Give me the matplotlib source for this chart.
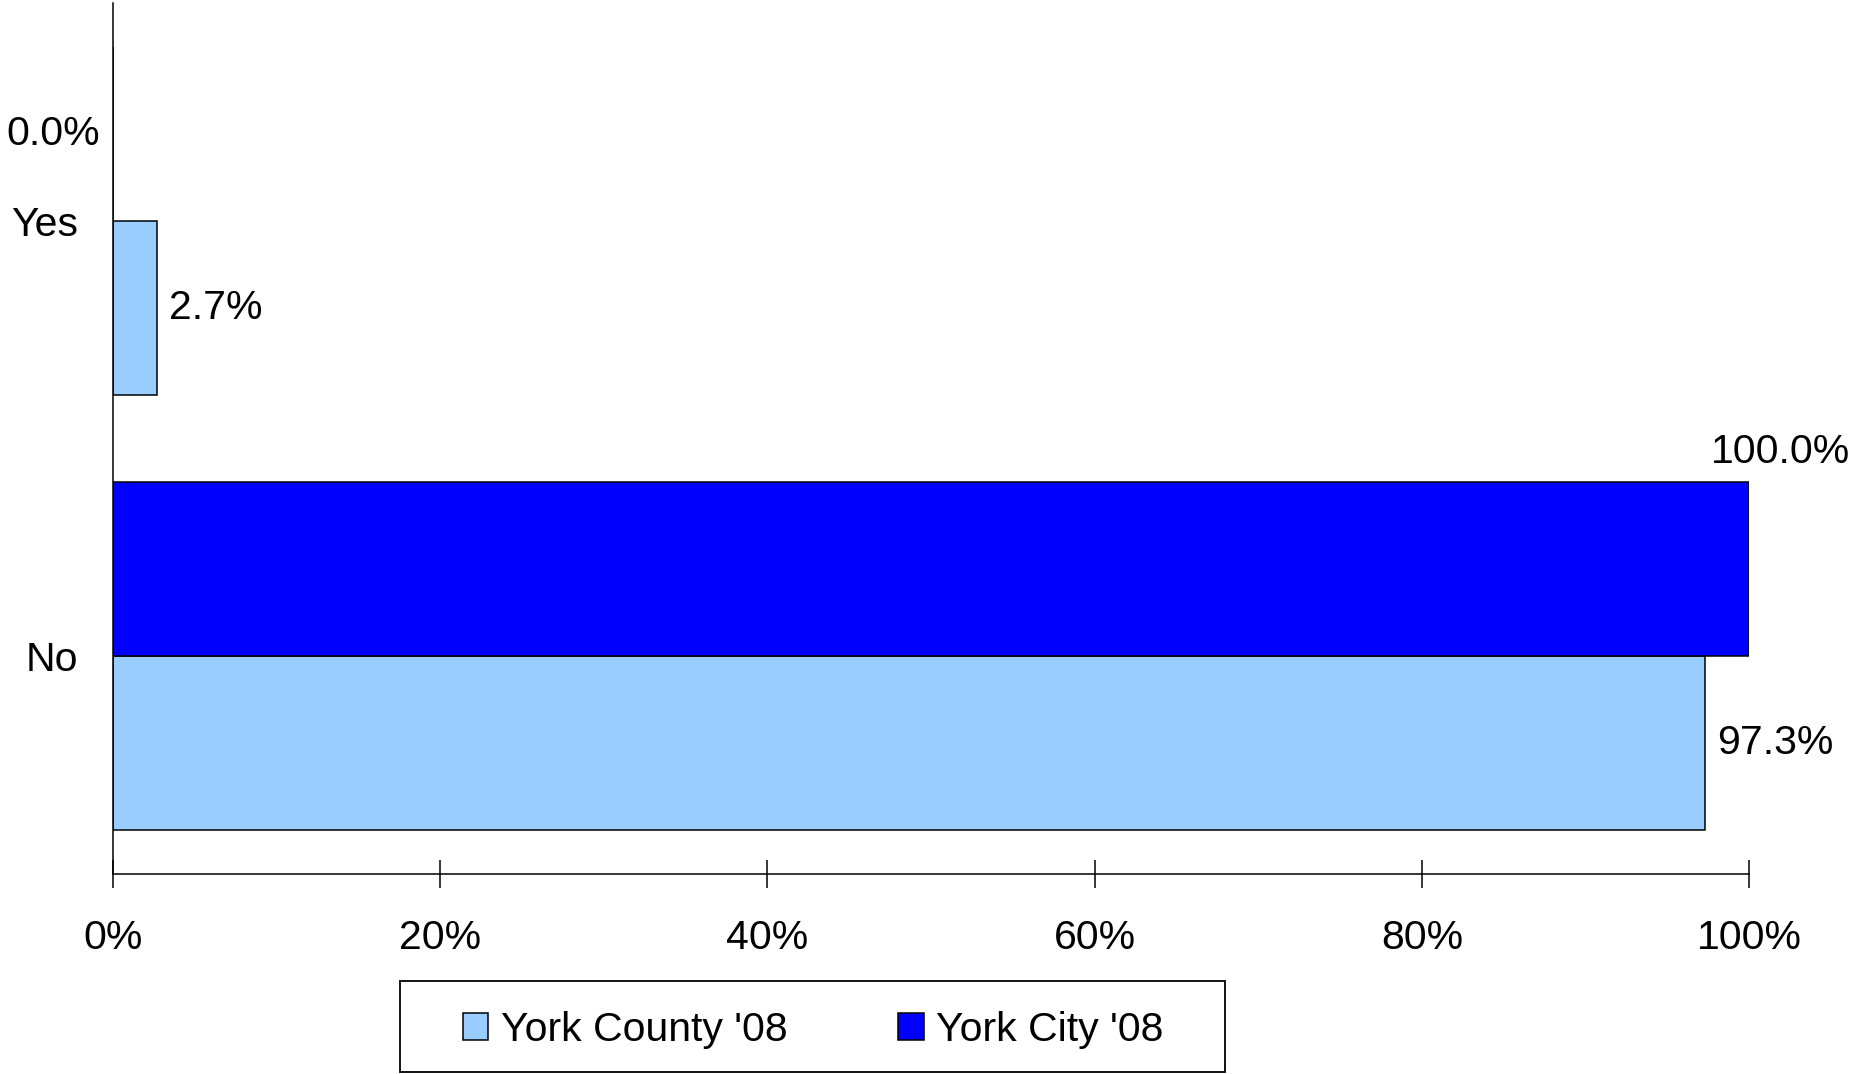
import matplotlib
matplotlib.use('Agg')
import matplotlib.pyplot as plt
import matplotlib.patches as mpatches
import numpy as np

plt.rcParams.update({
    'font.family': ['Liberation Sans', 'DejaVu Sans'],
    'font.size': 29.5,
})

categories = ['Yes', 'No']
county = [2.7, 97.3]
city = [0.0, 100.0]
series_names = ["York County '08", "York City '08"]
xticks = [0, 20, 40, 60, 80, 100]

fig = plt.figure(figsize=(18.54, 10.74), dpi=100)
ax = fig.add_axes([0.0610, 0.1862, 0.8824, 0.8110])

y = np.array([1, 0])
h = 0.4
bc = ax.barh(y - h/2, county, height=h, color='#99CCFF', edgecolor='black',
             linewidth=1.1, label=series_names[0])
bk = ax.barh(y + h/2, city, height=h, color='#0000FF', edgecolor='black',
             linewidth=1.1, label=series_names[1])

ax.set_xlim(0, 100)
ax.set_ylim(-0.5, 1.5)
ax.set_xticks(xticks)
ax.set_xticklabels([f'{t}%' for t in xticks])
ax.set_yticks(y)
ax.set_yticklabels(categories)
ax.tick_params(axis='x', direction='inout', length=20, width=1.1, pad=22.5)
ax.tick_params(axis='y', length=0, pad=25)
for s in ['top', 'right']:
    ax.spines[s].set_visible(False)
for s in ['left', 'bottom']:
    ax.spines[s].set_linewidth(1.1)

# value labels
for yi, v in zip(y, county):
    ax.annotate(f'{v:.1f}%', xy=(v, yi - h/2), xytext=(12, 0),
                textcoords='offset pixels', ha='left', va='center')
for yi, v in zip(y, city):
    if v == 0:
        ax.annotate(f'{v:.1f}%', xy=(0, yi + h/2), xytext=(-13, 0),
                    textcoords='offset pixels', ha='right', va='center',
                    annotation_clip=False)
    else:
        ax.annotate(f'{v:.1f}%', xy=(v, yi + h), xytext=(-38, 30),
                    textcoords='offset pixels', ha='left', va='center',
                    annotation_clip=False)

# legend, with its own box drawn separately (box is wider than the content)
leg = fig.legend(handles=[bc, bk], loc='center', bbox_to_anchor=(0.4385, 0.0414),
                 ncol=2, frameon=False,
                 handlelength=0.63, handleheight=0.63, handletextpad=0.3,
                 columnspacing=2.7, borderpad=0.0, borderaxespad=0)
frame = mpatches.Rectangle((400/1854, 1 - 1072/1074), 825/1854, 91/1074,
                           transform=fig.transFigure, fill=False,
                           edgecolor='black', linewidth=1.3)
fig.add_artist(frame)

fig.savefig('out.png', dpi=100)
